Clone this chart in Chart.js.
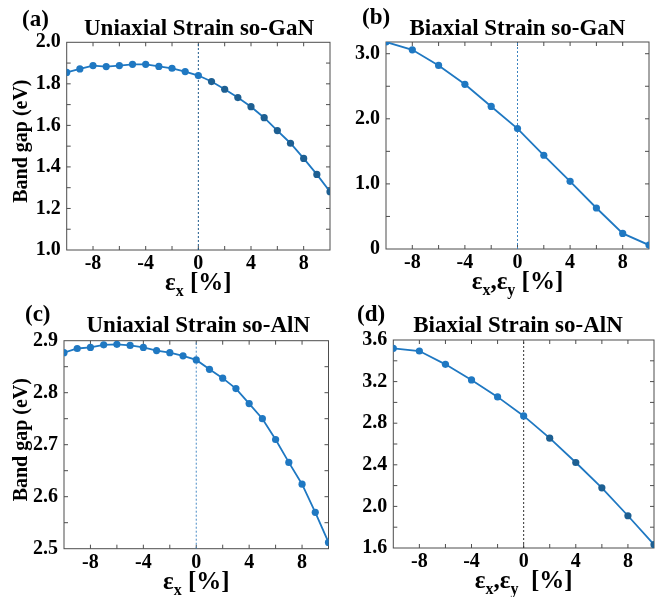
<!DOCTYPE html>
<html>
<head>
<meta charset="utf-8">
<script src="https://cdn.jsdelivr.net/npm/chart.js@4.4.0/dist/chart.umd.min.js"></script>
<style>
  body { margin: 0; background: #fff; }
  #wrap { position: relative; width: 658px; height: 597px; overflow: hidden; }
  canvas { position: absolute; }
</style>
</head>
<body>
<div id="wrap">
  <canvas id="cA"></canvas>
  <canvas id="cB"></canvas>
  <canvas id="cC"></canvas>
  <canvas id="cD"></canvas>
</div>
<script>
// strain values (%)
const strainUni = [-10, -9, -8, -7, -6, -5, -4, -3, -2, -1, 0, 1, 2, 3, 4, 5, 6, 7, 8, 9, 10];
const strainBi = [-10, -8, -6, -4, -2, 0, 2, 4, 6, 8, 10];

// band gaps (eV)
const gapGaNUni = [1.855, 1.872, 1.888, 1.883, 1.888, 1.894, 1.894, 1.884, 1.875, 1.859, 1.840,
                   1.811, 1.774, 1.734, 1.690, 1.637, 1.575, 1.514, 1.441, 1.364, 1.281];
const gapGaNBi = [3.18, 3.06, 2.82, 2.53, 2.19, 1.85, 1.44, 1.04, 0.63, 0.24, 0.06];
const gapAlNUni = [2.877, 2.885, 2.887, 2.892, 2.893, 2.891, 2.887, 2.881, 2.877, 2.871, 2.863,
                   2.845, 2.828, 2.808, 2.779, 2.750, 2.710, 2.666, 2.624, 2.570, 2.512];
const gapAlNBi = [3.52, 3.494, 3.366, 3.216, 3.053, 2.870, 2.656, 2.422, 2.179, 1.910, 1.632];

// ticks
const xTickLabels = [-8, -4, 0, 4, 8];
const xMinorTicks = [-8, -6, -4, -2, 0, 2, 4, 6, 8];
const yTicksA = [1.0, 1.2, 1.4, 1.6, 1.8, 2.0];
const yMinorA = [1.1, 1.2, 1.3, 1.4, 1.5, 1.6, 1.7, 1.8, 1.9];
const yTicksB = [0, 1, 2, 3];
const yMinorB = [0.5, 1, 1.5, 2, 2.5, 3];
const yTicksC = [2.5, 2.6, 2.7, 2.8, 2.9];
const yMinorC = [2.55, 2.6, 2.65, 2.7, 2.75, 2.8, 2.85];
const yTicksD = [1.6, 2.0, 2.4, 2.8, 3.2, 3.6];
const yMinorD = [1.8, 2.0, 2.2, 2.4, 2.6, 2.8, 3.0, 3.2, 3.4];

const FONT = "'Liberation Serif', 'Times New Roman', serif";
const LINE = '#1f78c2';
const DARK = '#1d5f92';

const panels = [
  { id: 'cA', letter: '(a)', title: 'Uniaxial Strain so-GaN', xs: strainUni, ys: gapGaNUni,
    yMin: 1.0, yMax: 2.0, yTicks: yTicksA, yMinor: yMinorA, fmt: v => v.toFixed(1),
    xLabel: [['ε'], ['x', 1], [' [%]']], yTitle: true, zero: '#1e5a8c', darkRight: true,
    box: { x: 0, y: 0, w: 336, h: 300 }, area: { l: 66.7, t: 42.3, r: 330, b: 250 },
    letterAt: [22, 26], titleAt: [199, 35] },
  { id: 'cB', letter: '(b)', title: 'Biaxial Strain so-GaN', xs: strainBi, ys: gapGaNBi,
    yMin: 0, yMax: 3.18, yTicks: yTicksB, yMinor: yMinorB, fmt: v => v === 0 ? '0' : v.toFixed(1),
    xLabel: [['ε'], ['x', 1], [',ε'], ['y', 1], [' [%]']], yTitle: false, zero: '#3a82c0', darkRight: false,
    box: { x: 330, y: 0, w: 328, h: 300 }, area: { l: 386, t: 42, r: 649, b: 249 },
    letterAt: [362, 24], titleAt: [517.5, 34.5] },
  { id: 'cC', letter: '(c)', title: 'Uniaxial Strain so-AlN', xs: strainUni, ys: gapAlNUni,
    yMin: 2.5, yMax: 2.9, yTicks: yTicksC, yMinor: yMinorC, fmt: v => v.toFixed(1),
    xLabel: [['ε'], ['x', 1], [' [%]']], yTitle: true, zero: '#4a8cc6', darkRight: false,
    box: { x: 0, y: 298, w: 336, h: 299 }, area: { l: 64, t: 340.7, r: 328.5, b: 548.7 },
    letterAt: [25, 321], titleAt: [198.3, 331.7] },
  { id: 'cD', letter: '(d)', title: 'Biaxial Strain so-AlN', xs: strainBi, ys: gapAlNBi,
    yMin: 1.6, yMax: 3.6, yTicks: yTicksD, yMinor: yMinorD, fmt: v => v.toFixed(1),
    xLabel: [['ε'], ['x', 1], [',ε'], ['y', 1], ['  [%]']], yTitle: false, zero: '#333333', darkRight: true,
    box: { x: 330, y: 298, w: 328, h: 299 }, area: { l: 393.3, t: 340, r: 657, b: 548 },
    letterAt: [357, 321], titleAt: [518, 331.7] }
];

// frame, inward ticks and all the panel texts
const panelDecor = {
  id: 'panelDecor',
  beforeDatasetsDraw(chart, args, p) {
    const ctx = chart.ctx, a = chart.chartArea;
    const xs = chart.scales.x, ys = chart.scales.y;
    const tl = 4;
    ctx.save();
    ctx.strokeStyle = '#4d4d4d';
    ctx.lineWidth = 1;
    ctx.strokeRect(a.left, a.top, a.right - a.left, a.bottom - a.top);
    ctx.beginPath();
    xMinorTicks.forEach(v => {
      const px = xs.getPixelForValue(v);
      ctx.moveTo(px, a.bottom); ctx.lineTo(px, a.bottom - tl);
      ctx.moveTo(px, a.top); ctx.lineTo(px, a.top + tl);
    });
    p.panel.yMinor.forEach(v => {
      const py = ys.getPixelForValue(v);
      ctx.moveTo(a.left, py); ctx.lineTo(a.left + tl, py);
      ctx.moveTo(a.right, py); ctx.lineTo(a.right - tl, py);
    });
    ctx.stroke();
    ctx.restore();
  },
  afterDraw(chart, args, p) {
    const pn = p.panel, ctx = chart.ctx, a = chart.chartArea;
    const ox = pn.box.x, oy = pn.box.y;
    ctx.save();
    ctx.fillStyle = '#000';
    ctx.textBaseline = 'alphabetic';

    ctx.font = 'bold 23px ' + FONT;
    ctx.textAlign = 'left';
    ctx.fillText(pn.letter, pn.letterAt[0] - ox, pn.letterAt[1] - oy);

    ctx.textAlign = 'center';
    ctx.fillText(pn.title, pn.titleAt[0] - ox, pn.titleAt[1] - oy);

    if (pn.yTitle) {
      ctx.save();
      ctx.translate(21 - ox + 6, (a.top + a.bottom) / 2 - 5);
      ctx.rotate(-Math.PI / 2);
      ctx.font = 'bold 20px ' + FONT;
      ctx.fillText('Band gap (eV)', 0, 0);
      ctx.restore();
    }

    // x label with subscripts
    const big = 'bold 25px ' + FONT, small = 'bold 16px ' + FONT;
    ctx.textAlign = 'left';
    let w = 0;
    pn.xLabel.forEach(s => { ctx.font = s[1] ? small : big; w += ctx.measureText(s[0]).width; });
    let x = (a.left + a.right) / 2 - w / 2;
    const base = a.bottom + 40;
    pn.xLabel.forEach(s => {
      ctx.font = s[1] ? small : big;
      ctx.fillText(s[0], x, s[1] ? base + 6 : base);
      x += ctx.measureText(s[0]).width;
    });
    ctx.restore();
  }
};

panels.forEach(pn => {
  const cv = document.getElementById(pn.id);
  cv.width = pn.box.w;
  cv.height = pn.box.h;
  cv.style.left = pn.box.x + 'px';
  cv.style.top = pn.box.y + 'px';

  const yAxisW = pn.area.l - pn.box.x;
  const xAxisH = pn.box.y + pn.box.h - pn.area.b;

  new Chart(cv, {
    type: 'line',
    data: {
      datasets: [
        {
          data: pn.xs.map((v, i) => ({ x: v, y: pn.ys[i] })),
          borderColor: LINE,
          borderWidth: 1.8,
          pointRadius: 3.6,
          pointBorderWidth: 0,
          pointBackgroundColor: c => (pn.darkRight && c.raw && c.raw.x > 0) ? DARK : LINE,
          tension: 0
        },
        {
          data: [{ x: 0, y: pn.yMin }, { x: 0, y: pn.yMax }],
          borderColor: pn.zero,
          borderWidth: 1,
          borderDash: [2, 2],
          pointRadius: 0
        }
      ]
    },
    options: {
      responsive: false,
      animation: false,
      devicePixelRatio: 1,
      layout: { padding: { left: 0, top: pn.area.t - pn.box.y, right: pn.box.x + pn.box.w - pn.area.r, bottom: 0 } },
      plugins: {
        legend: { display: false },
        tooltip: { enabled: false },
        panelDecor: { panel: pn }
      },
      scales: {
        x: {
          type: 'linear',
          min: -10, max: 10,
          grid: { display: false, drawTicks: false },
          border: { display: false },
          afterBuildTicks: s => { s.ticks = xTickLabels.map(v => ({ value: v })); },
          afterFit: s => { s.height = xAxisH; },
          ticks: { color: '#000', padding: 2, font: { family: FONT, size: 20, weight: 'bold' } }
        },
        y: {
          type: 'linear',
          min: pn.yMin, max: pn.yMax,
          grid: { display: false, drawTicks: false },
          border: { display: false },
          afterBuildTicks: s => { s.ticks = pn.yTicks.map(v => ({ value: v })); },
          afterFit: s => { s.width = yAxisW; },
          ticks: { color: '#000', padding: 6, font: { family: FONT, size: 20, weight: 'bold' },
                   callback: v => pn.fmt(v) }
        }
      }
    },
    plugins: [panelDecor]
  });
});
</script>
</body>
</html>
